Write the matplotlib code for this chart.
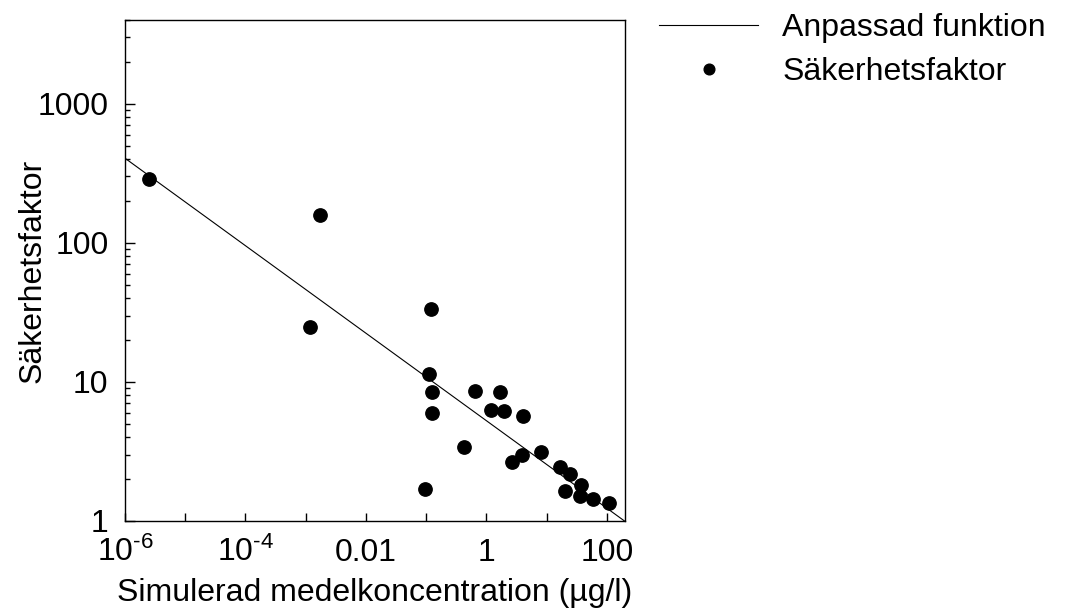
import numpy as np
import matplotlib
matplotlib.use('Agg')
import matplotlib.pyplot as plt
from matplotlib.ticker import FixedLocator, LogLocator, NullLocator, NullFormatter

plt.rcParams['font.family'] = ['Liberation Sans', 'DejaVu Sans']
plt.rcParams['mathtext.fontset'] = 'custom'
plt.rcParams['mathtext.rm'] = 'Liberation Sans'

# simulerad medelkoncentration (ug/l) och saekerhetsfaktor
konc = [2.52e-6, 1.75e-3, 1.16e-3, 0.119, 0.113, 0.123, 0.127, 0.096,
        0.42, 0.64, 1.18, 1.69, 1.97, 4.07, 2.63, 3.96, 8.1, 16.8,
        24.2, 20.3, 37.8, 36.4, 59.9, 109.0]
faktor = [286, 158.6, 24.9, 33.3, 11.4, 8.45, 6.0, 1.69,
          3.38, 8.63, 6.27, 8.49, 6.14, 5.71, 2.65, 2.97, 3.15, 2.43,
          2.19, 1.65, 1.80, 1.51, 1.45, 1.35]

# anpassad potensfunktion y = a * x^b
fit_a = 5.26
fit_b = -0.3145

xticks = [1e-6, 1e-5, 1e-4, 1e-3, 1e-2, 1e-1, 1, 10, 100]
xlabels = [r'$\mathregular{10^{\text{-}6}}$', '', r'$\mathregular{10^{\text{-}4}}$', '',
           '0.01', '', '1', '', '100']
yticks = [1, 10, 100, 1000]
ylabels = ['1', '10', '100', '1000']

fig = plt.figure(figsize=(10.66, 6.13), dpi=100)
ax = fig.add_axes([0.1173, 0.1501, 0.469, 0.8173])

xfit = np.logspace(-6, np.log10(200), 200)
ax.plot(xfit, fit_a * xfit ** fit_b, color='black', linewidth=0.8,
        label='Anpassad funktion')
ax.plot(konc, faktor, 'o', color='black', markersize=9.6,
        label='Säkerhetsfaktor')

ax.set_xscale('log')
ax.set_yscale('log')
ax.set_xlim(1e-6, 200)
ax.set_ylim(1, 4000)

ax.xaxis.set_major_locator(FixedLocator(xticks))
ax.set_xticklabels(xlabels)
ax.xaxis.set_minor_locator(NullLocator())
ax.yaxis.set_major_locator(FixedLocator(yticks))
ax.set_yticklabels(ylabels)
ax.yaxis.set_minor_locator(LogLocator(base=10, subs=np.arange(2, 10)))
ax.yaxis.set_minor_formatter(NullFormatter())

ax.tick_params(axis='both', which='both', direction='in', top=False, right=False,
               labelsize=23, width=1.0)
ax.tick_params(axis='y', which='major', length=7, pad=12)
ax.tick_params(axis='y', which='minor', length=3.5)
ax.tick_params(axis='x', which='major', length=6, pad=29)
for lab in ax.get_xticklabels():
    lab.set_verticalalignment('baseline')

for sp in ax.spines.values():
    sp.set_linewidth(1.0)

ax.set_xlabel('Simulerad medelkoncentration (µg/l)', fontsize=23, labelpad=7)
ax.set_ylabel('Säkerhetsfaktor', fontsize=23)
ax.yaxis.set_label_coords(-0.155, 0.5)

fig.legend(loc='upper left', bbox_to_anchor=(656 / 1066, 0.984), frameon=False,
           fontsize=23, handlelength=3.1, handletextpad=0.75, labelspacing=0.45,
           borderpad=0.1, borderaxespad=0, markerscale=0.8)

fig.savefig('out.png', dpi=100)
